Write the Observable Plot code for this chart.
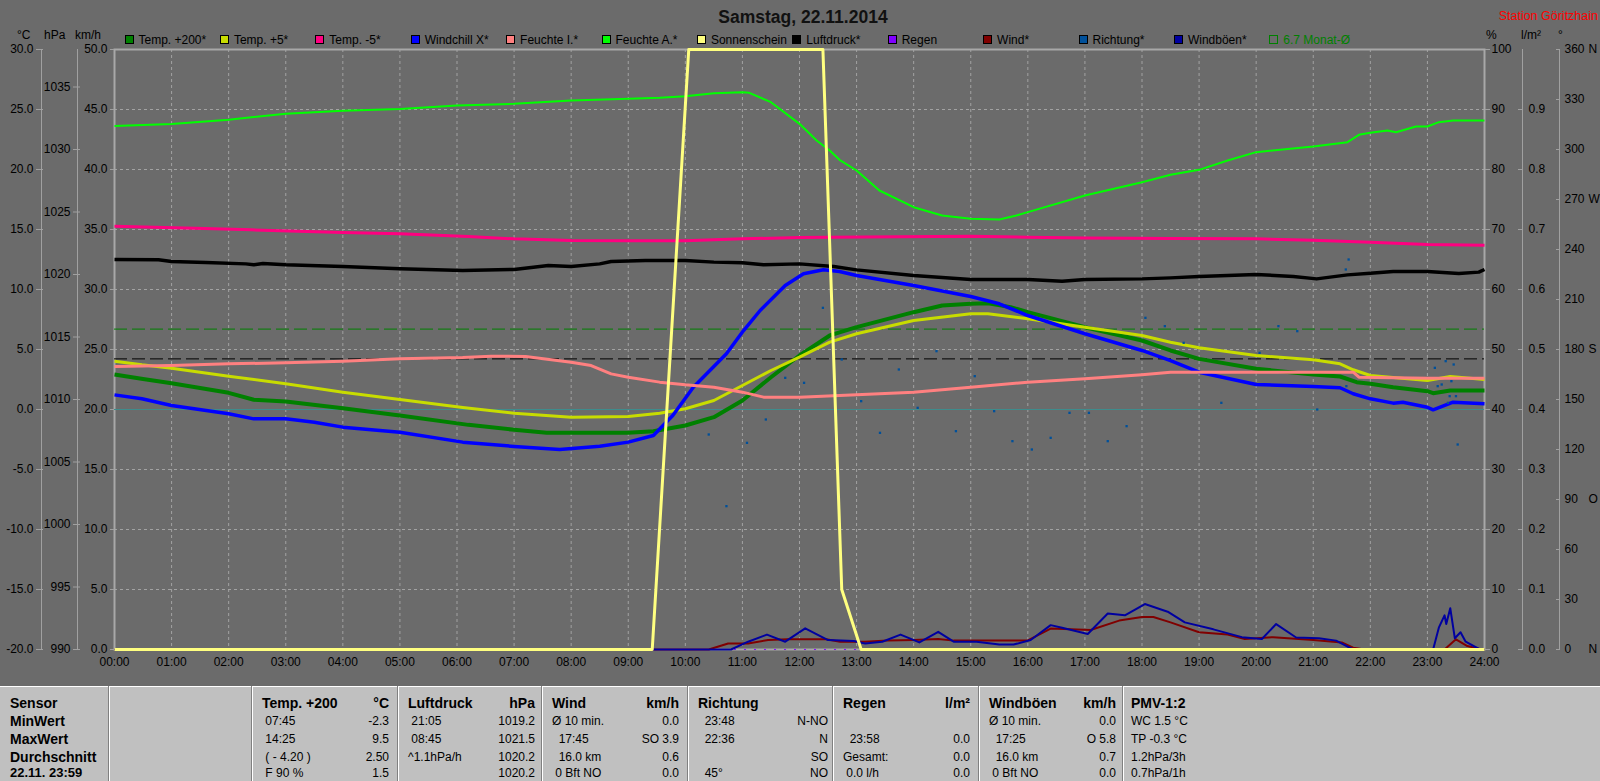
<!DOCTYPE html>
<html>
<head>
<meta charset="utf-8">
<script src="https://cdn.jsdelivr.net/npm/d3@7"></script>
<script src="https://cdn.jsdelivr.net/npm/@observablehq/plot@0.6"></script>
<style>
  html, body { margin:0; padding:0; background:#6b6b6b; overflow:hidden; }
  #wrap { position:relative; width:1600px; height:781px; overflow:hidden; background:#6b6b6b;
          font-family:"Liberation Sans", Arial, sans-serif; color:#000; }
  #wrap .t { position:absolute; white-space:pre; }
  #chart { position:absolute; left:0; top:0; }
</style>
</head>
<body>
<div id="wrap"><div id="chart"></div></div>
<script>
// ================= DATA =================
const hourTicks = d3.range(0, 25);
const tempTicks = [-20, -15, -10, -5, 0, 5, 10, 15, 20, 25, 30];
const hpaTicks  = [990, 995, 1000, 1005, 1010, 1015, 1020, 1025, 1030, 1035];
const kmhTicks  = [0, 5, 10, 15, 20, 25, 30, 35, 40, 45, 50];
const pctTicks  = [0, 10, 20, 30, 40, 50, 60, 70, 80, 90, 100];
const rainTicks = [0, 0.1, 0.2, 0.3, 0.4, 0.5, 0.6, 0.7, 0.8, 0.9];
const degTicks  = [0, 30, 60, 90, 120, 150, 180, 210, 240, 270, 300, 330, 360];
const compassDeg = [0, 90, 180, 270, 360];
const compassTxt = ["N", "O", "S", "W", "N"];
const monthAvg = 6.7;        // °C  (Monat-Ø)
const normPressure = 1013.25; // hPa
const freezing = 0;          // °C

// [hour, °C]
const temp200 = [[0,2.92],[0.5,2.55],[1,2.19],[2,1.39],[2.44,0.81],[3,0.67],[4,0.11],[5,-0.5],[6.2,-1.28],[7,-1.69],[7.57,-1.94],[8,-1.94],[9,-1.94],[9.44,-1.81],[10,-1.33],[10.5,-0.64],[11,0.75],[11.5,2.69],[12,4.5],[12.53,6.17],[13,6.86],[14,8.11],[14.5,8.67],[15,8.81],[15.3,8.86],[15.7,8.53],[16,8.11],[17,6.86],[18,5.75],[18.5,4.92],[19,4.22],[20,3.39],[21,2.92],[21.47,2.75],[21.76,2.28],[22,2.14],[22.4,1.86],[23,1.53],[23.1,1.36],[23.4,1.58],[24,1.58]];
const temp5 = [[0,4.03],[0.48,3.72],[1,3.44],[2,2.78],[3,2.14],[4,1.44],[5,0.83],[6.1,0.17],[7,-0.31],[8,-0.64],[9,-0.58],[9.55,-0.31],[10,0.06],[10.5,0.75],[11,2.0],[11.5,3.25],[12,4.36],[12.53,5.61],[13,6.31],[14,7.42],[15,7.97],[15.3,7.97],[16,7.56],[17,6.86],[18,6.17],[18.5,5.61],[19,5.14],[20,4.5],[21,4.14],[21.47,3.81],[21.7,3.31],[22,2.83],[23,2.42],[23.4,2.75],[24,2.5]];
const tempM5 = [[0,15.28],[1.4,15.11],[2.4,14.97],[4,14.75],[5,14.64],[6.2,14.42],[7,14.22],[8,14.08],[9,14.06],[10,14.06],[11,14.22],[12,14.33],[12.5,14.36],[15,14.44],[16,14.36],[17,14.3],[18.5,14.25],[20,14.22],[21,14.11],[22,13.94],[23,13.75],[24,13.69]];
const windchill = [[0,1.22],[0.48,0.89],[1,0.33],[2,-0.36],[2.44,-0.78],[3,-0.78],[3.5,-1.06],[4,-1.47],[5,-1.89],[6.1,-2.72],[7,-3.08],[7.8,-3.33],[8.5,-3.06],[9,-2.72],[9.44,-2.17],[9.61,-1.33],[9.78,-0.5],[10.14,1.86],[10.72,4.64],[11.02,6.58],[11.31,8.25],[11.75,10.33],[12.07,11.31],[12.42,11.64],[12.7,11.5],[13,11.17],[14,10.33],[15,9.42],[15.5,8.81],[16,7.83],[17,6.31],[18,4.92],[18.5,4.08],[19,3.11],[20,2.08],[21,1.92],[21.47,1.81],[21.7,1.31],[22,0.89],[22.4,0.53],[22.57,0.61],[23,0.19],[23.1,-0.03],[23.45,0.61],[24,0.47]];
// [hour, %]
const feuchteI = [[0,47.17],[1,47.33],[2,47.61],[3,47.78],[4,48.06],[5,48.44],[6.1,48.65],[6.6,48.89],[7.2,48.83],[8,47.89],[8.35,47.33],[8.7,45.94],[9,45.39],[9.55,44.56],[10,44.11],[10.5,43.72],[11,42.89],[11.37,42.06],[12,42.06],[12.6,42.3],[14,42.89],[15,43.72],[16,44.56],[17,45.11],[18,45.78],[18.5,46.22],[19,46.22],[20,46.22],[21,46.22],[21.7,46.22],[21.8,45.39],[23,45.22],[24,45.22]];
const feuchteA = [[0,87.25],[1,87.6],[2,88.3],[3,89.3],[4,89.8],[5,90.1],[6,90.67],[7,90.94],[8,91.5],[9,91.78],[9.55,91.94],[10,92.22],[10.5,92.72],[11,92.89],[11.12,92.78],[11.5,91.22],[12,87.61],[12.3,84.83],[12.53,83.17],[12.7,81.61],[13,79.83],[13.4,76.5],[14,73.72],[14.5,72.33],[15,71.78],[15.5,71.67],[15.8,72.33],[16,72.89],[17,75.67],[18,77.89],[18.5,79.11],[19,79.94],[19.5,81.5],[20,82.89],[21,83.83],[21.6,84.56],[21.8,85.78],[22,86.11],[22.3,86.5],[22.45,86.22],[22.8,87.17],[23,87.17],[23.2,87.89],[23.45,88.17],[24,88.17]];
const sonnenschein = [[0,0],[9.42,0],[10.06,100],[12.41,100],[12.74,10],[13.08,0],[24,0]];
// [hour, hPa]
const luftdruck = [[0,1021.2],[0.77,1021.18],[1,1021.04],[1.6,1020.96],[2.3,1020.85],[2.44,1020.78],[2.6,1020.88],[3,1020.78],[4,1020.64],[5,1020.46],[6.1,1020.32],[7,1020.4],[7.6,1020.72],[8,1020.64],[8.5,1020.85],[8.7,1021.04],[9.3,1021.12],[10,1021.12],[10.5,1020.99],[11,1020.94],[11.37,1020.78],[12,1020.85],[12.6,1020.64],[13,1020.37],[14,1019.92],[15,1019.6],[16,1019.6],[16.6,1019.46],[17,1019.6],[18,1019.65],[18.5,1019.73],[19,1019.84],[20,1020],[20.65,1019.84],[21.06,1019.65],[21.6,1019.97],[22,1020.1],[22.4,1020.24],[23,1020.24],[23.55,1020.08],[23.9,1020.19],[24,1020.4]];
// [hour, l/m²]
const regen = [[0,0],[24,0]];
// [hour, km/h]
const wind = [[0,0],[10.41,0],[10.75,0.5],[11.1,0.5],[11.45,0.79],[11.79,0.85],[12.47,0.85],[12.71,0.65],[13.15,0.65],[13.54,0.74],[14,0.79],[14.43,0.88],[14.7,0.74],[15,0.76],[16,0.76],[16.4,1.74],[17.1,1.62],[17.6,2.41],[18,2.71],[18.2,2.71],[18.5,2.26],[19,1.44],[19.5,1.24],[19.8,0.88],[20.3,1.03],[21,0.79],[21.5,0.59],[21.7,0.15],[21.9,0],[23.3,0],[23.5,0.85],[23.7,0.29],[23.95,0],[24,0]];
const windboeen = [[0,0],[10.8,0],[11.1,0.65],[11.43,1.24],[11.75,0.65],[12.1,1.76],[12.5,0.79],[12.95,0.71],[13.15,0.5],[13.45,0.65],[13.77,1.24],[14.1,0.59],[14.43,1.47],[14.7,0.65],[15.1,0.65],[15.5,0.41],[15.75,0.41],[16.05,0.79],[16.4,2.03],[16.6,1.82],[17.05,1.29],[17.4,3.0],[17.7,2.85],[18.05,3.79],[18.45,3.15],[18.75,2.26],[19.25,1.68],[19.75,1.03],[20.1,0.88],[20.35,2.12],[20.7,1.0],[21.1,0.94],[21.4,0.74],[21.7,0],[23.1,0],[23.2,1.82],[23.3,2.85],[23.33,2.12],[23.4,3.44],[23.48,0.94],[23.58,1.44],[23.67,0.65],[23.92,0],[24,0]];
// [hour, °]
const richtung = [[10.41,129],[10.72,86],[11.08,124],[11.41,138],[11.75,163],[12.08,160],[12.41,205],[12.74,174],[13.08,149],[13.41,130],[13.74,168],[14.07,145],[14.4,179],[14.74,131],[15.07,164],[15.41,143],[15.73,125],[16.07,120],[16.4,127],[16.73,142],[17.07,142],[17.4,125],[17.73,134],[18.06,199],[18.4,194],[18.73,184],[19.39,148],[20.06,178],[20.39,194],[20.72,191],[21.07,144],[21.57,228],[21.62,234],[21.58,158],[23.13,169],[23.18,158],[23.25,159],[23.32,173],[23.36,148],[23.39,152],[23.42,161],[23.46,171],[23.5,152],[23.53,123]];

const legendNames  = ["Temp. +200*","Temp. +5*","Temp. -5*","Windchill X*","Feuchte I.*","Feuchte A.*","Sonnenschein","Luftdruck*","Regen","Wind*","Richtung*","Windböen*"];
const legendColors = ["#008000","#c8dc00","#ff0080","#0000ff","#ff8080","#00ff00","#ffff80","#000000","#8000ff","#800000","#00509a","#0000a0"];
const monthLabel = "6.7 Monat-Ø";

const rowLabels = ["Sensor","MinWert","MaxWert","Durchschnitt","22.11. 23:59"];
const tableCols = [
  {x:252, head:"Temp. +200", unit:"°C",   rows:[[" 07:45","-2.3"],[" 14:25","9.5"],[" ( - 4.20 )","2.50"],[" F 90 %","1.5"]]},
  {x:398, head:"Luftdruck",  unit:"hPa",  rows:[[" 21:05","1019.2"],[" 08:45","1021.5"],["^1.1hPa/h","1020.2"],["","1020.2"]]},
  {x:542, head:"Wind",       unit:"km/h", rows:[["Ø 10 min.","0.0"],["  17:45","SO 3.9"],["  16.0 km","0.6"],[" 0 Bft NO","0.0"]]},
  {x:688, head:"Richtung",   unit:"",     rows:[["  23:48","N-NO"],["  22:36","N"],["","SO"],["  45°","NO"]]},
  {x:833, head:"Regen",      unit:"l/m²", rows:[["",""],["  23:58","0.0"],["Gesamt:","0.0"],[" 0.0 l/h","0.0"]]},
  {x:979, head:"Windböen",   unit:"km/h", rows:[["Ø 10 min.","0.0"],["  17:25","O 5.8"],["  16.0 km","0.7"],[" 0 Bft NO","0.0"]]}
];
const pmvCol = {x:1123, head:"PMV-1:2", rows:["WC 1.5 °C","TP -0.3 °C","1.2hPa/3h","0.7hPa/1h"]};

// ============ scale conversions onto the base (°C) axis ============
const fromC    = t => t;
const fromPct  = p => -20 + p / 2;
const fromHpa  = p => -20 + (p - 990) * 50 / 48;
const fromKmh  = v => -20 + v;
const fromRain = r => -20 + r * 50;
const fromDeg  = d => -20 + d * 50 / 360;

const FONT = "'Liberation Sans', Arial, sans-serif";
const AX = "#a0a0a0";

const ln = (data, conv, stroke, strokeWidth) =>
  Plot.line(data, {x: d => d[0], y: d => conv(d[1]), stroke, strokeWidth, strokeLinejoin: "round", strokeLinecap: "butt"});

const chart = Plot.plot({
  width: 1600, height: 686,
  marginLeft: 114, marginRight: 116, marginTop: 49, marginBottom: 37,
  style: {background: "transparent", color: "#000", fontFamily: FONT, fontSize: "12px", overflow: "visible"},
  x: {domain: [0, 24], axis: null},
  y: {domain: [-20, 30], axis: null},
  marks: [
    Plot.gridX({ticks: hourTicks.slice(1, -1), stroke: "#a2a2a2", strokeOpacity: 1, strokeDasharray: "3,3"}),
    Plot.gridY({ticks: pctTicks.slice(1, -1).map(fromPct), stroke: "#a2a2a2", strokeOpacity: 1, strokeDasharray: "3,3"}),
    Plot.frame({stroke: "#a8a8a8", strokeWidth: 2}),
    // axis lines
    Plot.ruleX([0], {dx: -73, stroke: AX}),
    Plot.ruleX([0], {dx: -37, stroke: AX}),
    Plot.ruleX([24], {dx: 38, stroke: AX}),
    Plot.ruleX([24], {dx: 75, stroke: AX}),
    // axes
    Plot.axisX({ticks: hourTicks, tickFormat: h => String(h).padStart(2, "0") + ":00", tickSize: 0, tickPadding: 8, fill: "#000", label: null}),
    Plot.axisY({ticks: tempTicks.map(fromC), tickFormat: t => t.toFixed(1), anchor: "left", dx: -71, tickSize: 7, tickPadding: 3, stroke: AX, fill: "#000", label: null}),
    Plot.axisY({ticks: hpaTicks.map(fromHpa), tickFormat: t => String(Math.round(990 + (t + 20) * 48 / 50)), anchor: "left", dx: -34, tickSize: 7, tickPadding: 3, stroke: AX, fill: "#000", label: null}),
    Plot.axisY({ticks: kmhTicks.map(fromKmh), tickFormat: t => (t + 20).toFixed(1), anchor: "left", dx: 0, tickSize: 4, tickPadding: 3, stroke: AX, fill: "#000", label: null}),
    Plot.axisY({ticks: pctTicks.map(fromPct), tickFormat: t => String(Math.round((t + 20) * 2)), anchor: "right", dx: 0, tickSize: 5, tickPadding: 2, stroke: AX, fill: "#000", label: null}),
    Plot.axisY({ticks: rainTicks.map(fromRain), tickFormat: t => ((t + 20) / 50).toFixed(1), anchor: "right", dx: 33, tickSize: 5, tickPadding: 6, stroke: AX, fill: "#000", label: null}),
    Plot.axisY({ticks: degTicks.map(fromDeg), tickFormat: t => String(Math.round((t + 20) * 360 / 50)), anchor: "right", dx: 71, tickSize: 4, tickPadding: 5, stroke: AX, fill: "#000", label: null}),
    Plot.axisY({ticks: compassDeg.map(fromDeg), tickFormat: t => compassTxt[compassDeg.indexOf(Math.round((t + 20) * 360 / 50))], anchor: "right", dx: 104, tickSize: 0, tickPadding: 0, fill: "#000", label: null}),
    // reference lines
    Plot.ruleY([freezing], {stroke: "#3e8c8c", strokeWidth: 1}),
    Plot.ruleY([monthAvg], {stroke: "#008000", strokeWidth: 1, strokeDasharray: "13,5"}),
    Plot.ruleY([fromHpa(normPressure)], {stroke: "#000000", strokeWidth: 1, strokeDasharray: "13,5"}),
    // series
    Plot.line(regen, {x: d => d[0], y: d => fromRain(d[1]), stroke: "#8000ff", strokeWidth: 1, strokeDasharray: "1,9"}),
    ln(temp200, fromC, "#008000", 4),
    ln(temp5, fromC, "#c8dc00", 3),
    ln(tempM5, fromC, "#ff0080", 3),
    ln(windchill, fromC, "#0000ff", 3.5),
    ln(feuchteI, fromPct, "#ff8080", 3),
    ln(feuchteA, fromPct, "#00ff00", 2),
    ln(luftdruck, fromHpa, "#000000", 3.5),
    ln(wind, fromKmh, "#800000", 2),
    Plot.dot(richtung, {x: d => d[0], y: d => fromDeg(d[1]), r: 1.3, fill: "#00509a", symbol: "square"}),
    ln(windboeen, fromKmh, "#0000a0", 2),
    ln(sonnenschein, fromPct, "#ffff80", 3)
  ]
});
document.getElementById("chart").appendChild(chart);

// ============ HTML text: title, legend, units, table ============
const wrap = document.getElementById("wrap");
function put(text, css) {
  const e = document.createElement("div");
  e.className = "t";
  e.style.cssText = css;
  e.textContent = text;
  wrap.appendChild(e);
  return e;
}
function box(css) {
  const e = document.createElement("div");
  e.style.cssText = "position:absolute;box-sizing:border-box;" + css;
  wrap.appendChild(e);
  return e;
}

put("Samstag, 22.11.2014", "left:653px;top:7px;width:300px;text-align:center;font-weight:bold;font-size:17.5px;line-height:20px;color:#111;");
put("Station Göritzhain", "right:2px;top:9px;font-size:12.5px;line-height:14px;color:#ff0000;");

// unit labels
[["°C",17],["hPa",44],["km/h",75],["%",1486],["l/m²",1521],["°",1558]].forEach(([t, x]) =>
  put(t, `left:${x}px;top:29px;font-size:12px;line-height:12px;`));

// legend
legendNames.forEach((name, i) => {
  const x = 124.5 + i * 95.4;
  put(name, `left:${x + 14}px;top:34px;font-size:12px;line-height:12px;color:#000;`);
});
legendNames.forEach((name, i) => {
  const x = 124.5 + i * 95.4;
  box(`left:${x}px;top:35px;width:9px;height:9px;background:${legendColors[i]};border:1px solid #000;`);
});
{
  const x = 124.5 + 12 * 95.4;
  box(`left:${x}px;top:35px;width:9px;height:9px;border:1px solid #008000;`);
  put(monthLabel, `left:${x + 14}px;top:34px;font-size:12px;line-height:12px;color:#008000;`);
}

// table
const tTop = 686;
box(`left:0;top:${tTop}px;width:1600px;height:${781 - tTop}px;background:#c0c0c0;border-top:1px solid #ffffff;`);
[109, 252, 398, 542, 688, 833, 979, 1123].forEach(x => {
  box(`left:${x - 1}px;top:${tTop}px;width:1px;height:${781 - tTop}px;background:#808080;`);
  box(`left:${x}px;top:${tTop}px;width:1px;height:${781 - tTop}px;background:#ffffff;`);
});
const rowY = [703, 721, 739, 757, 773];
const rowFs = [14, 14, 14, 14, 13];
rowLabels.forEach((r, i) => put(r, `left:10px;top:${rowY[i] - 8}px;font-size:${rowFs[i]}px;line-height:16px;font-weight:bold;`));
const rightW = {252:137, 398:137, 542:137, 688:140, 833:137, 979:137};
tableCols.forEach(c => {
  put(c.head, `left:${c.x + 10}px;top:${rowY[0] - 8}px;font-size:14px;line-height:16px;font-weight:bold;`);
  if (c.unit) put(c.unit, `left:${c.x}px;width:137px;text-align:right;top:${rowY[0] - 8}px;font-size:14px;line-height:16px;font-weight:bold;`);
  c.rows.forEach((r, i) => {
    put(r[0], `left:${c.x + 10}px;top:${rowY[i + 1] - 7}px;font-size:12px;line-height:14px;`);
    put(r[1], `left:${c.x}px;width:${rightW[c.x]}px;text-align:right;top:${rowY[i + 1] - 7}px;font-size:12px;line-height:14px;`);
  });
});
put(pmvCol.head, `left:${pmvCol.x + 8}px;top:${rowY[0] - 8}px;font-size:14px;line-height:16px;font-weight:bold;`);
pmvCol.rows.forEach((r, i) => put(r, `left:${pmvCol.x + 8}px;top:${rowY[i + 1] - 7}px;font-size:12px;line-height:14px;`));
</script>
</body>
</html>
